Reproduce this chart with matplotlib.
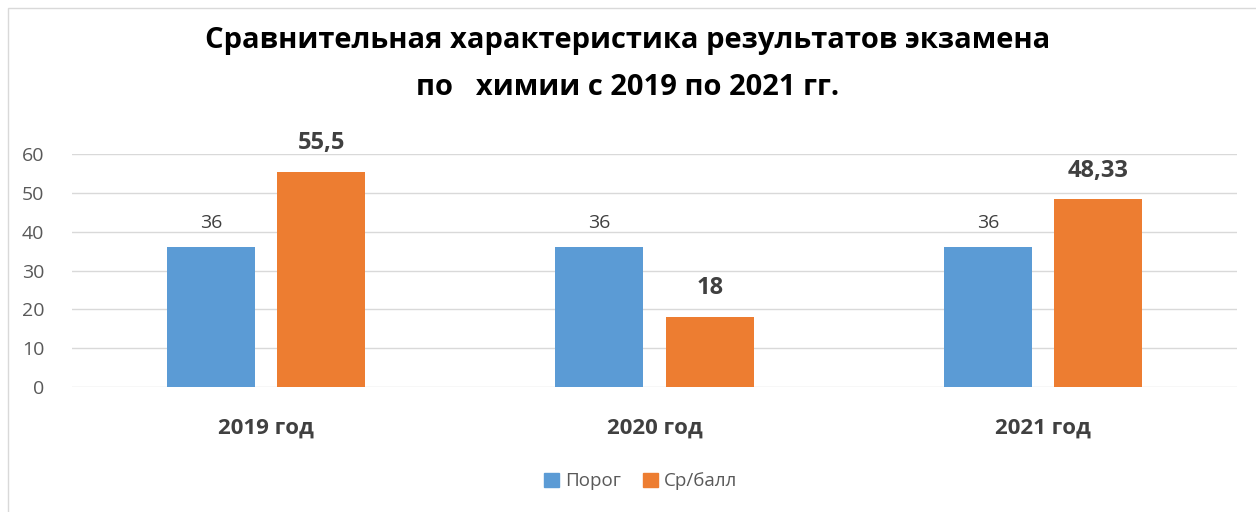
import matplotlib.pyplot as plt
import numpy as np
from matplotlib.patches import Rectangle

plt.rcParams['font.family'] = ['Open Sans', 'DejaVu Sans']

### Data ###
years = ['2019 год', '2020 год', '2021 год']
porog = [36, 36, 36]
sr_ball = [55.5, 18, 48.33]
sr_labels = ['55,5', '18', '48,33']
yticks = [0, 10, 20, 30, 40, 50, 60]

blue = '#5b9bd5'
orange = '#ed7d31'

fig = plt.figure(figsize=(12.56, 5.12), dpi=100)
fig.patches.append(Rectangle((0.006, -0.01), 1.0, 0.995, transform=fig.transFigure,
                             fill=False, edgecolor='#d9d9d9', linewidth=1))

ax = fig.add_axes([0.0573, 0.244, 0.9277, 0.455])
x = np.arange(len(years))
w = 0.227
off = 0.142
ax.bar(x - off, porog, w, color=blue, zorder=3)
ax.bar(x + off, sr_ball, w, color=orange, zorder=3)

for i in range(len(years)):
    ax.text(x[i] - off, porog[i] + 4.0, str(porog[i]), ha='center', va='bottom',
            fontsize=14, color='#404040')
    ax.text(x[i] + off, sr_ball[i] + 4.3, sr_labels[i], ha='center', va='bottom',
            fontsize=17, fontweight='bold', color='#404040')

ax.set_xlim(-0.5, 2.5)
ax.set_ylim(0, 60)
ax.set_yticks(yticks)
ax.set_xticks(x)
ax.set_xticklabels(years, fontsize=16, fontweight='bold', color='#404040')
ax.tick_params(axis='x', length=0, pad=22)
ax.tick_params(axis='y', length=0, pad=20, labelsize=14, labelcolor='#595959')
ax.grid(axis='y', color='#d9d9d9', linewidth=1, zorder=0)
for s in ax.spines.values():
    s.set_visible(False)

fig.text(0.5, 0.92, 'Сравнительная характеристика результатов экзамена',
         ha='center', va='center', fontsize=21, fontweight='bold', color='black')
fig.text(0.5, 0.83, 'по   химии с 2019 по 2021 гг.',
         ha='center', va='center', fontsize=21, fontweight='bold', color='black')

handles = [Rectangle((0, 0), 1, 1, color=blue), Rectangle((0, 0), 1, 1, color=orange)]
fig.legend(handles, ['Порог', 'Ср/балл'], loc='center', bbox_to_anchor=(0.51, 0.06),
           ncol=2, frameon=False, fontsize=13.5, handlelength=0.8, handleheight=0.8,
           handletextpad=0.3, columnspacing=1.2, labelcolor='#595959')

fig.savefig('out.png', dpi=100, facecolor='white')
